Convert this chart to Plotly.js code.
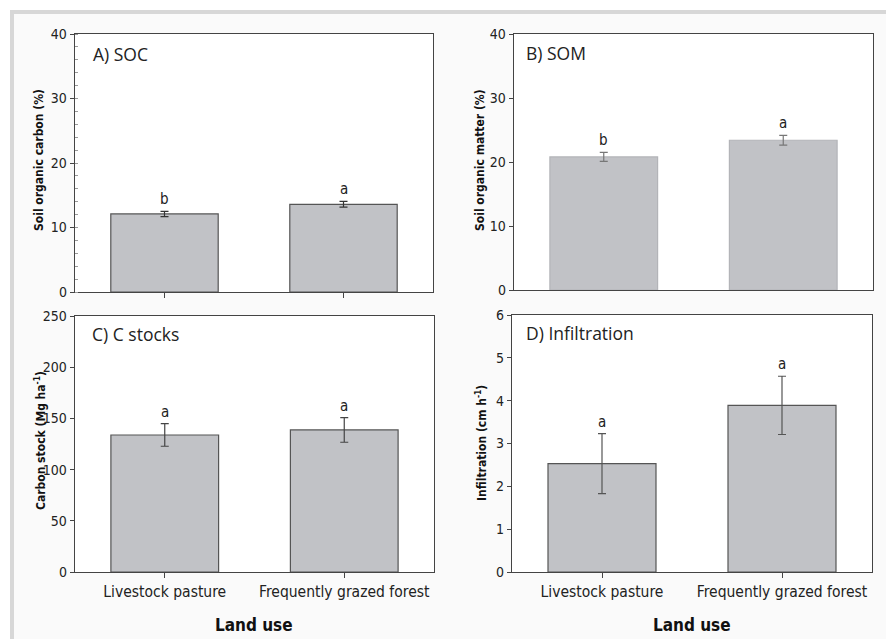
<!DOCTYPE html>
<html>
<head>
<meta charset="utf-8">
<script src="https://cdn.plot.ly/plotly-3.0.1.min.js"></script>
<style>html,body{margin:0;padding:0;background:#fff;}#chart{width:886px;height:639px;}</style>
</head>
<body>
<div id="chart"></div>
<script>
// ---- data ----
const categories = ['Livestock pasture', 'Frequently grazed forest'];
const socMean = [12.1, 13.6];
const socErr = [0.4, 0.45];
const socLetters = ['b', 'a'];
const somMean = [20.8, 23.4];
const somErr = [0.7, 0.75];
const somLetters = ['b', 'a'];
const stockMean = [133.8, 138.7];
const stockErr = [11, 12];
const stockLetters = ['a', 'a'];
const infMean = [2.53, 3.89];
const infErr = [0.7, 0.68];
const infLetters = ['a', 'a'];
const panelLabels = ['A) SOC', 'B) SOM', 'C) C stocks', 'D) Infiltration'];
const yTitles = ['Soil organic carbon (%)', 'Soil organic matter (%)', 'Carbon stock (Mg ha<sup>-1</sup>)', 'Infiltration (cm h<sup>-1</sup>)'];
const xTitle = 'Land use';

// ---- layout helpers ----
const W = 886, H = 639;
const px = v => v / W;
const py = v => 1 - v / H;
const condensed = '"DejaVu Sans Condensed", "Liberation Sans Narrow", "Liberation Sans", sans-serif';
const plain = '"Open Sans", "Noto Sans", sans-serif';

const barFill = '#c1c2c6';
function barTrace(mean, err, xa, ya, lineCol, errCol) {
  return {
    type: 'bar', x: categories, y: mean, xaxis: xa, yaxis: ya, width: 0.6,
    marker: {color: barFill, line: {color: lineCol, width: 1.2}},
    error_y: {type: 'data', array: err, visible: true, thickness: 1.2, width: 4, color: errCol},
    hoverinfo: 'skip', showlegend: false
  };
}
const data = [
  barTrace(socMean, socErr, 'x', 'y', '#555', '#333'),
  barTrace(somMean, somErr, 'x2', 'y2', '#b3b4b8', '#777'),
  barTrace(stockMean, stockErr, 'x3', 'y3', '#555', '#444'),
  barTrace(infMean, infErr, 'x4', 'y4', '#555', '#555')
];

const axLine = {showline: true, linecolor: '#444', linewidth: 1.3, mirror: true, zeroline: false, showgrid: false};
function xAxis(domain, anchor, showTicks, showLabels) {
  return Object.assign({}, axLine, {
    domain: domain, anchor: anchor, type: 'category', range: [-0.5, 1.5],
    ticks: showTicks ? 'outside' : '', ticklen: 5, tickcolor: '#444',
    showticklabels: showLabels,
    tickfont: {family: condensed, size: 15.5, color: '#222'}
  });
}
function yAxis(domain, anchor, range, dtick, minor) {
  const a = Object.assign({}, axLine, {
    domain: domain, anchor: anchor, range: range, dtick: dtick, tick0: 0,
    ticks: 'outside', ticklen: 4, tickcolor: '#444', ticklabelstandoff: 0,
    tickfont: {family: condensed, size: 14, color: '#222'}
  });
  if (minor) a.minor = {ticks: 'inside', ticklen: 3, dtick: dtick / 5, tickcolor: '#999'};
  return a;
}

const layout = {
  width: W, height: H,
  margin: {l: 0, r: 0, t: 0, b: 0},
  paper_bgcolor: '#fafafa', plot_bgcolor: '#ffffff',
  showlegend: false,
  xaxis: xAxis([px(75), px(433)], 'y', true, false),
  yaxis: yAxis([py(292), py(34)], 'x', [0, 40], 10, true),
  xaxis2: xAxis([px(514), px(873)], 'y2', false, false),
  yaxis2: yAxis([py(290), py(34)], 'x2', [0, 40], 10, false),
  xaxis3: xAxis([px(75), px(434)], 'y3', true, true),
  yaxis3: yAxis([py(572), py(316)], 'x3', [0, 250], 50, false),
  xaxis4: xAxis([px(512), px(872)], 'y4', true, true),
  yaxis4: yAxis([py(572), py(315)], 'x4', [0, 6], 1, false),
  shapes: [
    {type: 'rect', xref: 'paper', yref: 'paper', x0: 0, x1: 1, y0: py(10), y1: 1, fillcolor: '#ffffff', line: {width: 0}},
    {type: 'rect', xref: 'paper', yref: 'paper', x0: 0, x1: px(10), y0: 0, y1: 1, fillcolor: '#ffffff', line: {width: 0}},
    {type: 'rect', xref: 'paper', yref: 'paper', x0: px(10), x1: 1, y0: py(14), y1: py(10), fillcolor: '#d7d7d7', line: {width: 0}},
    {type: 'rect', xref: 'paper', yref: 'paper', x0: px(10), x1: px(14), y0: 0, y1: py(10), fillcolor: '#d7d7d7', line: {width: 0}}
  ],
  annotations: []
};

// letters above bars
function letters(mean, err, lets, xa, ya) {
  lets.forEach((t, i) => {
    layout.annotations.push({
      x: categories[i], y: mean[i] + err[i], xref: xa, yref: ya, text: t,
      showarrow: false, yanchor: 'bottom', yshift: 1,
      font: {family: condensed, size: 15, color: '#222'}
    });
  });
}
letters(socMean, socErr, socLetters, 'x', 'y');
letters(somMean, somErr, somLetters, 'x2', 'y2');
letters(stockMean, stockErr, stockLetters, 'x3', 'y3');
letters(infMean, infErr, infLetters, 'x4', 'y4');

// panel labels
const labelPos = [[91, 54], [524, 53], [90, 334], [524, 333]];
panelLabels.forEach((t, i) => {
  layout.annotations.push({
    xref: 'paper', yref: 'paper', x: px(labelPos[i][0]), y: py(labelPos[i][1]),
    xanchor: 'left', yanchor: 'middle', text: t, showarrow: false,
    font: {family: plain, size: 17.5, color: '#222'}
  });
});

// y axis titles (left edge of rotated text)
const yTitlePos = [[30, 160], [471, 160], [30, 441], [471, 443]];
yTitles.forEach((t, i) => {
  layout.annotations.push({
    xref: 'paper', yref: 'paper', x: px(yTitlePos[i][0]), y: py(yTitlePos[i][1]),
    xanchor: 'left', yanchor: 'middle', textangle: -90, text: t, showarrow: false,
    font: {family: condensed, size: 12, color: '#111', weight: 'bold'}
  });
});

// x axis titles
[[254, 625], [692, 625]].forEach(p => {
  layout.annotations.push({
    xref: 'paper', yref: 'paper', x: px(p[0]), y: py(p[1]),
    xanchor: 'center', yanchor: 'middle', text: xTitle, showarrow: false,
    font: {family: condensed, size: 17, color: '#111', weight: 'bold'}
  });
});

Plotly.newPlot('chart', data, layout, {staticPlot: true, displayModeBar: false});
</script>
</body>
</html>
